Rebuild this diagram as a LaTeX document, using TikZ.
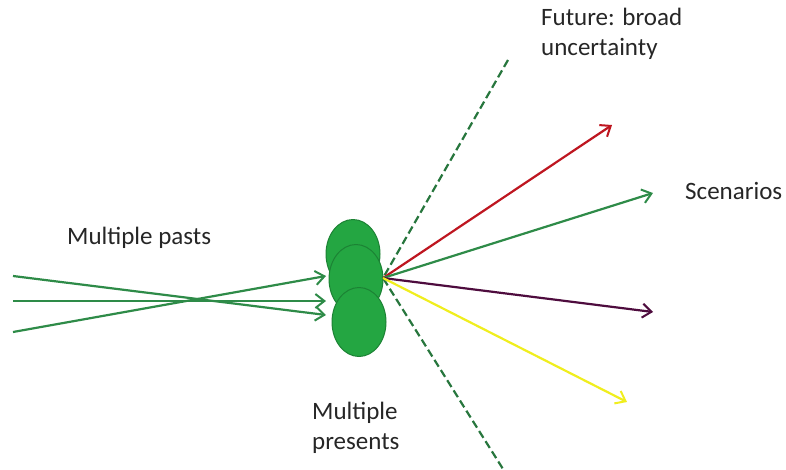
\documentclass[tikz,border=0pt]{standalone}
\usepackage{fontspec}
\setmainfont{Carlito}
\usetikzlibrary{arrows.meta,shapes.geometric,positioning}
\definecolor{pastgreen}{RGB}{46,139,72}
\definecolor{blobgreen}{RGB}{36,166,66}
\definecolor{blobedge}{RGB}{28,130,52}
\definecolor{scenred}{RGB}{190,22,32}
\definecolor{scenpurple}{RGB}{78,12,62}
\definecolor{scenyellow}{RGB}{240,238,30}
\tikzset{
    label text/.style={font=\fontsize{25}{30}\selectfont, text=black!85, inner sep=0pt, align=left},
    present/.style={ellipse, draw=blobedge, line width=1pt, fill=blobgreen, minimum width=54pt, minimum height=69pt, inner sep=0pt},
    time arrow/.style={line width=2.2pt, -{Straight Barb[length=9pt,width=14pt,line width=2pt]}},
    horizon/.style={line width=2.2pt, pastgreen!85!black, dash pattern=on 8pt off 4pt},
}

\begin{document}
\begin{tikzpicture}[x=1pt,y=1pt,yscale=-1,xscale=1]
\useasboundingbox (0,0) rectangle (786,469);
%Presents
\node [present] (presTop) at (353,254) {};
\node [present] (presMid) at (356,279) {};
\node [present] (presBot) at (359,322) {};
\coordinate (now) at (383,278);
%Pasts
\coordinate (pastA) at (13,276);
\coordinate (pastB) at (13,301);
\coordinate (pastC) at (13,332);
\coordinate (inA) at (326,315);
\coordinate (inB) at (326,301);
\coordinate (inC) at (326,276);
\draw [time arrow, pastgreen] (pastA) -- (inA);
\draw [time arrow, pastgreen] (pastB) -- (inB);
\draw [time arrow, pastgreen] (pastC) -- (inC);
%Horizon
\coordinate (horTop) at (508,60);
\coordinate (horBot) at (503,469);
\draw [horizon] (horTop) -- (now) -- (horBot);
%Scenarios
\coordinate (scenA) at (612,125);
\coordinate (scenB) at (653,193);
\coordinate (scenC) at (653,312);
\coordinate (scenD) at (627,402);
\draw [time arrow, scenred] (now) -- (scenA);
\draw [time arrow, pastgreen] (now) -- (scenB);
\draw [time arrow, scenpurple] (now) -- (scenC);
\draw [time arrow, scenyellow] (now) -- (scenD);
%Labels
\node [label text, anchor=north west] (future) at (541,8) {Future: broad\\uncertainty};
\node [label text, anchor=west] (scenlbl) at (685,191) {Scenarios};
\node [label text, anchor=west] (pastlbl) at (67,238) {Multiple pasts};
\node [label text, anchor=north west] (preslbl) at (312,402) {Multiple\\presents};
\end{tikzpicture}
\end{document}
